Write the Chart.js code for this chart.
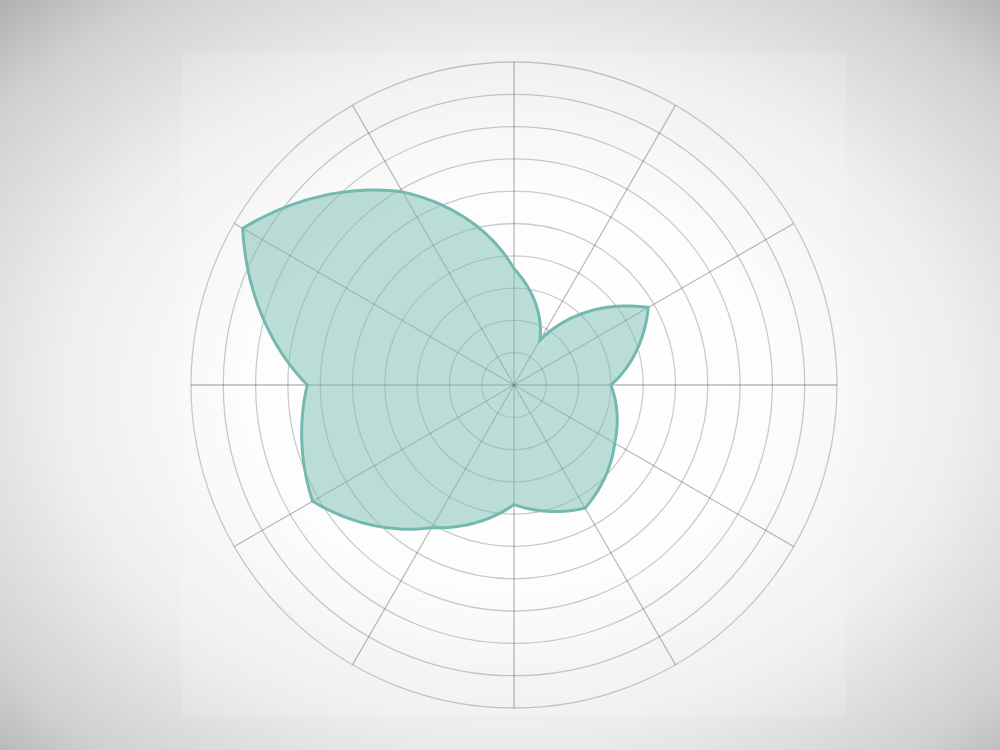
<!DOCTYPE html>
<html lang="en">
<head>
  <meta charset="UTF-8">
  <title>Radar</title>
  <style>
    html, body {
      margin: 0;
      padding: 0;
      width: 1000px;
      height: 750px;
      overflow: hidden;
    }

    body {
      background: radial-gradient(ellipse 75% 75% at 51% 52%, #ffffff 0%, #fdfdfd 35%, #eeeeee 60%, #d0d0d0 84%, #a9a9a9 100%);
      position: relative;
    }

    #wrap {
      position: absolute;
      left: 182px;
      top: 53px;
      width: 664px;
      height: 664px;
      background: rgba(255, 255, 255, 0.14);
    }
  </style>
</head>
<body>
  <div id="wrap"><canvas id="chart" width="664" height="664"></canvas></div>

  <script src="https://cdn.jsdelivr.net/npm/chart.js"></script>
  <script>
    // 12 spokes, clockwise from the top
    const labels = ['1', '2', '3', '4', '5', '6', '7', '8', '9', '10', '11', '12'];
    const values = [3.6, 1.6, 4.8, 3.0, 3.6, 4.4, 3.7, 5.1, 7.2, 6.4, 9.7, 6.9];

    const lineColor = 'rgb(116, 185, 175)';
    const fillColor = 'rgba(116, 185, 175, 0.48)';

    // the line runs in polar space between spokes (radius changes evenly with angle),
    // so each segment is a little spiral; positions come from the r scale itself
    const polarLine = {
      id: 'polarLine',
      afterDatasetsDraw(chart) {
        const scale = chart.scales.r;
        const data = chart.data.datasets[0].data;
        const n = data.length;
        const steps = 40;
        const c = chart.ctx;
        c.save();
        c.beginPath();
        for (let i = 0; i < n; i++) {
          const a = data[i];
          const b = data[(i + 1) % n];
          for (let s = 0; s < steps; s++) {
            const t = s / steps;
            const p = scale.getPointPositionForValue(i + t, a + (b - a) * t);
            if (i === 0 && s === 0) c.moveTo(p.x, p.y);
            else c.lineTo(p.x, p.y);
          }
        }
        c.closePath();
        c.fillStyle = fillColor;
        c.fill();
        c.lineWidth = 3;
        c.lineJoin = 'miter';
        c.strokeStyle = lineColor;
        c.stroke();
        c.restore();
      }
    };

    const ctx = document.getElementById('chart').getContext('2d');
    new Chart(ctx, {
      type: 'radar',
      data: {
        labels: labels,
        datasets: [{
          data: values,
          borderColor: 'rgba(0, 0, 0, 0)',
          backgroundColor: 'rgba(0, 0, 0, 0)',
          borderWidth: 0,
          pointRadius: 0,
          pointHoverRadius: 0,
          fill: false
        }]
      },
      options: {
        responsive: false,
        animation: false,
        layout: { padding: 9 },
        plugins: {
          legend: { display: false },
          tooltip: { enabled: false }
        },
        scales: {
          r: {
            min: 0,
            max: 10,
            ticks: { display: false, stepSize: 1 },
            pointLabels: { display: false },
            grid: { circular: true, color: 'rgba(0, 0, 0, 0.2)', lineWidth: 1.3 },
            angleLines: { color: 'rgba(0, 0, 0, 0.27)', lineWidth: 1.3 }
          }
        }
      },
      plugins: [polarLine]
    });
  </script>
</body>
</html>
